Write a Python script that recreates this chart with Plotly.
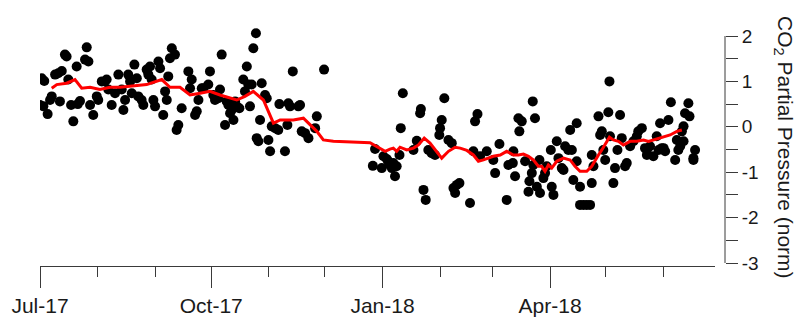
import pandas as pd
import plotly.graph_objects as go

START = "2017-07-01"

# scatter points: days since 1 Jul 2017, normalised CO2 partial pressure
pt_days = [0.9, 2.3, 0.0, 1.8, 4.1, 5.4, 6.3, 8.1, 9.8, 11.7, 10.7, 13.4, 14.3, 15.2, 16.7, 17.9,
           19.7, 20.3, 21.5, 24.2, 25.1, 26.0, 26.9, 28.6, 30.5, 31.3, 33.2, 34.9, 35.8, 36.7, 38.5,
           40.3, 42.1, 43.9, 44.8, 45.7, 47.4, 48.4, 49.3, 50.7, 52.0, 52.8, 54.6, 55.5, 57.3, 58.2,
           59.1, 60.0, 60.9, 61.8, 63.6, 64.5, 66.2, 67.2, 68.1, 68.9, 69.8, 70.8, 72.5, 74.3, 73.4,
           76.1, 79.7, 80.6, 81.5, 83.3, 84.2, 85.1, 86.9,
           87.8, 91.3, 90.4, 93.1, 94.0, 95.8, 96.7, 97.6, 99.4, 100.3, 101.2, 102.1, 103.0, 103.9,
           104.8, 105.7, 107.1, 109.2, 110.1, 111.1, 111.9, 112.8, 113.7, 114.6, 116.0, 119.1, 120.9,
           121.8, 118.2, 116.4, 117.3, 122.7, 123.6, 124.5, 126.3, 128.0, 128.6, 131.6, 132.9, 133.4,
           134.3, 135.8, 138.8, 139.7, 140.6, 142.4, 144.2, 147.8, 148.7, 152.6,
           178.8, 180.0, 183.6, 184.5, 186.3, 187.1, 188.0, 189.0, 189.8, 190.7, 191.6, 193.1, 193.8,
           194.9, 200.6, 202.4, 204.2, 204.6, 206.0, 207.2, 208.6, 210.4, 212.2, 214.5, 214.9, 215.8,
           217.2, 219.4, 221.2, 222.1, 223.0, 223.9, 225.3, 231.0, 232.8, 233.7, 235.0, 236.4, 240.0,
           244.5, 243.5, 246.8, 250.7, 251.6, 254.0, 255.2, 254.3, 257.0, 257.5, 258.8, 260.6, 262.4,
           262.9,
           264.7, 265.9, 265.0, 264.2, 266.9, 268.6, 268.3, 270.4, 271.3, 272.2, 274.9, 275.8, 274.4,
           277.6, 278.5, 280.3, 281.2, 282.1, 283.8, 285.7, 284.8, 286.5, 288.3, 288.3, 290.1, 290.1,
           291.9, 293.7, 295.5, 296.4, 296.4, 297.3, 300.0, 300.9, 301.8, 302.6, 303.6, 305.3, 305.9,
           306.2, 308.0, 308.9, 310.2, 311.6, 312.5, 314.3, 315.2, 317.0, 318.8, 320.6, 321.4, 323.3,
           325.0, 326.0, 327.7, 329.5, 331.3, 333.1, 334.0, 335.8, 337.6, 338.9, 341.2, 342.1, 343.9,
           344.8, 345.7, 346.5, 348.3, 348.9, 351.0, 351.9, 351.0, 326.0, 332.3, 335.0, 342.9, 345.7]
pt_vals = [1.07, 1.01, 0.48, 0.45, 0.28, 0.59, 0.67, 1.15, 1.18, 1.23, 0.56, 1.59, 1.55, 1.04, 0.48, 0.12,
           1.33, 0.50, 0.57, 1.48, 1.75, 1.44, 0.48, 0.26, 0.67, 0.59, 1.00, 1.00, 1.04, 0.82, 0.48,
           0.74, 1.15, 0.82, 0.37, 0.59, 1.15, 1.00, 0.74, 1.37, 1.07, 0.67, 0.59, 0.48, 1.26, 1.15,
           1.33, 1.04, 0.59, 0.45, 1.44, 1.29, 0.26, 0.78, 0.59, 1.11, 1.51, 1.73, 1.59, 0.04, -0.07,
           0.41, 1.22, 0.85, 1.04, 0.26, 0.34, 0.59, 0.85,
           0.85, 1.22, 0.93, 0.70, 0.59, 0.63, 0.82, 1.59, 0.04, 0.56, 0.48, 0.30, 0.37, 0.15,
           0.56, 0.45, 0.41, 1.04, 0.78, 1.33, 0.93, 0.45, 0.93, 1.73, 2.06, 0.96, 0.70,
           0.63, 0.15, -0.25, -0.32, -0.29, -0.54, 0.01, -0.03, -0.07, 0.50, -0.54, 0.04, 0.52,
           0.45, 1.22, 0.45, 0.48, -0.10, -0.14, -0.25, -0.03, 0.23, 1.26,
           -0.86, -0.49, -0.91, -0.65, -0.71, -0.76, -0.84, -0.91, -0.80, -1.09, -0.87, -0.62, -0.03,
           0.74, -0.51, -0.31, 0.30, 0.39, -1.39, -1.61, -0.51, -0.58, -0.62, -0.18, -0.03, 0.15,
           0.63, -0.29, -0.36, -1.35, -1.46, -1.28, -1.24, -1.68, -0.54, 0.12, 0.28, -0.65, -0.54,
           -1.02, -0.73, -0.38, -1.61, -0.84, -0.80, -1.09, -0.54, 0.19, -0.10, 0.12, -0.76, -1.43,
           -1.20,
           0.56, 0.19, -0.84, -1.02, -1.32, -1.46, -0.73, -1.13, -1.02, -0.87, -1.32, -1.50, -0.51,
           -0.32, -0.69, -0.91, -0.95, -0.43, -0.51, -0.51, -0.07, -1.17, -0.76, 0.08, -1.32, -1.72,
           -1.72, -1.72, -1.72, -1.24, -0.62, -0.87, 0.23, -0.18, -0.10, -0.51, -0.73, 0.32, 1.00,
           -0.21, -1.24, -0.91, -0.51, 0.26, -0.25, -0.87, -0.80, -0.43, -0.32, -0.21, -0.10, -0.03,
           -0.47, -0.62, -0.43, -0.65, -0.21, 0.08, -0.47, -0.54, 0.15, 0.54, -0.73, -0.29, -0.43,
           -0.10, 0.01, 0.30, 0.52, 0.23, -0.69, -0.51, -0.73, -0.51, -0.51, -0.47, -0.51, -0.32]

# running mean (red line)
avg_days = [6.3, 9.0, 14.3, 18.8, 22.4, 26.9, 32.2, 37.6, 43.0, 50.0, 57.3, 65.4, 69.8, 75.2, 80.6,
            86.0, 91.3, 96.7, 102.1, 105.7, 110.1, 114.6, 120.0, 121.8, 125.4, 129.0, 136.1, 141.5,
            145.1, 148.7, 152.2, 157.6, 177.3, 180.9, 185.4, 188.0, 189.8, 191.6, 193.4, 197.0,
            200.6, 203.3, 206.4, 209.5, 212.2, 215.8, 219.4, 223.0, 225.7, 229.3, 232.8, 235.5,
            238.2, 240.9, 243.5, 247.2, 250.7, 254.3, 257.0, 259.7, 262.4, 265.0, 267.7, 269.5,
            271.3, 273.1, 274.9, 277.6, 281.2, 284.8, 287.4, 290.1, 293.7, 296.4, 298.2, 300.0,
            301.8, 303.6, 305.9, 308.0, 310.7, 313.4, 317.0, 320.6, 324.2, 326.9, 329.5, 332.3,
            335.0, 338.5, 342.1, 344.8]
avg_vals = [0.85, 0.93, 0.96, 1.04, 0.85, 0.87, 0.82, 0.87, 0.87, 0.90, 0.93, 1.04, 0.87, 0.87, 0.70,
            0.74, 0.78, 0.70, 0.63, 0.59, 0.67, 0.78, 0.59, 0.41, 0.08, 0.15, 0.15, 0.19,
            0.04, -0.10, -0.29, -0.32, -0.35, -0.43, -0.54, -0.49, -0.47, -0.54, -0.45, -0.51,
            -0.47, -0.40, -0.25, -0.36, -0.51, -0.69, -0.54, -0.45, -0.47, -0.52, -0.62, -0.76,
            -0.73, -0.69, -0.65, -0.62, -0.54, -0.62, -0.62, -0.60, -0.65, -0.73, -0.87, -0.87,
            -0.98, -0.84, -0.91, -0.76, -0.69, -0.73, -0.87, -0.98, -0.98, -0.87, -0.73, -0.62,
            -0.51, -0.40, -0.23, -0.29, -0.32, -0.40, -0.32, -0.32, -0.29, -0.32, -0.29, -0.25,
            -0.21, -0.18, -0.10, -0.07]

y_tickvals = [-3, -2, -1, 0, 1, 2]
y_ticktext = ["-3", "-2", "-1", "0", "1", "2"]
y_minorvals = [-2.5, -1.5, -0.5, 0.5, 1.5]
y_title = "CO<sub>2</sub> Partial Pressure (norm)"

start = pd.Timestamp(START)
pt_dates = [start + pd.Timedelta(days=d) for d in pt_days]
avg_dates = [start + pd.Timedelta(days=d) for d in avg_days]

W, H = 797, 322
FONT = "Liberation Sans, Arial, sans-serif"
AX = "#3a3a3a"
TXT = "#1a1a1a"

fig = go.Figure()
fig.add_trace(go.Scatter(x=pt_dates, y=pt_vals, mode="markers",
                         marker=dict(size=10, color="black", line=dict(width=0)),
                         showlegend=False, hoverinfo="skip"))
fig.add_trace(go.Scatter(x=avg_dates, y=avg_vals, mode="lines",
                         line=dict(color="#ff0000", width=3),
                         showlegend=False, hoverinfo="skip"))

x_end = start + pd.Timedelta(days=362.6)
yaxis_x = 725 / W

fig.update_layout(
    width=W, height=H,
    margin=dict(l=0, r=0, t=0, b=0),
    paper_bgcolor="white", plot_bgcolor="white",
    font=dict(family=FONT, size=19, color=TXT),
    xaxis=dict(
        domain=[40 / W, 715 / W],
        range=[start, x_end],
        type="date",
        showgrid=False, zeroline=False,
        showline=True, linecolor=AX, linewidth=1,
        ticks="outside", ticklen=21, tickcolor=AX, tickwidth=1,
        tick0=START, dtick="M3", tickformat="%b-%y",
        tickfont=dict(family=FONT, size=21, color=TXT),
        minor=dict(ticks="outside", ticklen=10, tickcolor=AX, tickwidth=1,
                   dtick="M1", tick0=START, showgrid=False),
        automargin=False,
    ),
    yaxis=dict(
        domain=[(H - 266) / H, (H - 28) / H],
        range=[-3 - 3 / 45.4, 2 + 8 / 45.4],
        anchor="free", position=yaxis_x, side="right",
        showgrid=False, zeroline=False, showline=False,
        ticks="outside", ticklen=12, tickcolor=AX, tickwidth=1,
        tickmode="array", tickvals=y_tickvals, ticktext=y_ticktext,
        tickfont=dict(family=FONT, size=19, color=TXT),
        minor=dict(ticks="outside", ticklen=12, tickcolor=AX, tickwidth=1,
                   tickmode="array", tickvals=y_minorvals, showgrid=False),
        automargin=False,
    ),
    shapes=[dict(type="line", xref="paper", yref="y",
                 x0=yaxis_x, x1=yaxis_x, y0=-3, y1=2,
                 line=dict(color=AX, width=1))],
    annotations=[dict(text=y_title, textangle=90, xref="paper", yref="paper",
                      x=784 / W, y=(H - 147) / H, showarrow=False,
                      xanchor="center", yanchor="middle",
                      font=dict(family=FONT, size=21, color=TXT))],
)

fig.write_html("out.html", config={"displayModeBar": False, "staticPlot": True},
               post_script="document.body.style.margin='0';document.body.style.overflow='hidden';")
